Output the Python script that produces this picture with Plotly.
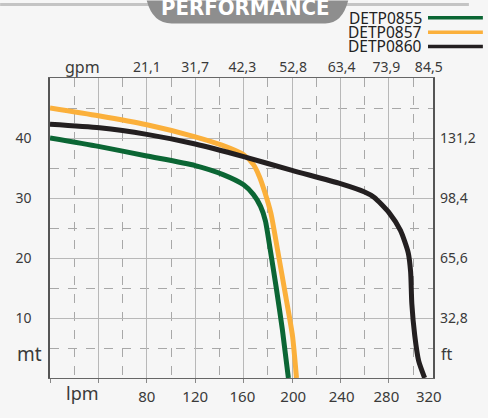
import plotly.graph_objects as go

# ---------------- data ----------------
lpm_0855 = [0, 40, 80, 120, 143, 160, 168, 174, 178, 182, 187, 192, 197]
head_0855 = [40.0, 38.6, 37.0, 35.4, 33.9, 32.2, 30.6, 28.6, 26.2, 21.4, 15.0, 8.1, 0.0]

lpm_0857 = [0, 40, 80, 120, 142, 160, 168, 173, 177, 182.5, 188, 195, 200.4, 203.7]
head_0857 = [45.0, 43.7, 42.2, 40.2, 38.8, 37.2, 35.6, 33.6, 31.3, 27.5, 21.4, 13.4, 7.0, 0.0]

lpm_0860 = [0, 41, 80, 120, 160, 200, 240, 260, 268, 280, 289.6, 296, 298, 299, 301.4, 304.7, 309.6]
head_0860 = [42.3, 41.7, 40.6, 39.0, 36.9, 34.6, 32.4, 31.0, 30.1, 27.6, 24.6, 20.9, 17.7, 12.4, 7.1, 2.8, 0.0]

series_names = ["DETP0855", "DETP0857", "DETP0860"]
series_colors = ["#0b6634", "#fbb03b", "#231f20"]

x_label_pos = [80, 120, 159, 201, 241, 278, 313]
lpm_labels = ["80", "120", "160", "200", "240", "280", "320"]
gpm_labels = ["21,1", "31,7", "42,3", "52,8", "63,4", "73,9", "84,5"]

y_label_pos = [10, 20, 30, 40]
mt_labels = ["10", "20", "30", "40"]
ft_labels = ["32,8", "65,6", "98,4", "131,2"]

X_MAX = 316.5
Y_MAX = 50

# ---------------- geometry helpers ----------------
W, H = 488, 418
L, R, T, B = 50, 54, 78, 26
PW, PH = W - L - R, H - T - B


def px(x):
    return (x - L) / PW


def py(y):
    return (H - B - y) / PH


FONT = "Noto Sans"
TXT = "#3a3a3a"

fig = go.Figure()

for lpm, head, name, col in [
    (lpm_0857, head_0857, series_names[1], series_colors[1]),
    (lpm_0855, head_0855, series_names[0], series_colors[0]),
    (lpm_0860, head_0860, series_names[2], series_colors[2]),
]:
    fig.add_trace(go.Scatter(x=lpm, y=head, mode="lines", name=name,
                             line=dict(color=col, width=5, shape="spline", smoothing=0.6),
                             showlegend=False, hoverinfo="skip"))

# empty traces so overlay axes get drawn
fig.add_trace(go.Scatter(x=[], y=[], xaxis="x2", yaxis="y", showlegend=False))
fig.add_trace(go.Scatter(x=[], y=[], xaxis="x3", yaxis="y", showlegend=False))
fig.add_trace(go.Scatter(x=[], y=[], xaxis="x", yaxis="y2", showlegend=False))

grid_solid = "#b8b8b8"
grid_dash = "#a8a8a8"

fig.update_layout(
    width=W, height=H,
    margin=dict(l=L, r=R, t=T, b=B, pad=0),
    paper_bgcolor="#f6f6f6", plot_bgcolor="#f6f6f6",
    font=dict(family=FONT, color=TXT, size=14),
    xaxis=dict(range=[0, X_MAX], tickmode="linear", tick0=0, dtick=40,
               showgrid=True, gridcolor=grid_solid, gridwidth=1,
               minor=dict(tickmode="array", tickvals=[20, 60, 100, 140, 180, 220, 260, 300],
                          showgrid=True, gridcolor=grid_dash, griddash="dash", gridwidth=1),
               showticklabels=False, ticks="outside", ticklen=4, tickcolor="#888",
               showline=True, linecolor="#666", linewidth=1, mirror=True,
               zeroline=False, layer="below traces"),
    xaxis2=dict(range=[0, X_MAX], overlaying="x", side="top", anchor="y",
                tickmode="array", tickvals=x_label_pos, ticktext=gpm_labels,
                showgrid=False, ticks="", showline=False, zeroline=False,
                ticklabelstandoff=2, tickfont=dict(size=14, color=TXT)),
    xaxis3=dict(range=[0, X_MAX], overlaying="x", side="bottom", anchor="y",
                tickmode="array", tickvals=x_label_pos, ticktext=lpm_labels,
                showgrid=False, ticks="", showline=False, zeroline=False,
                ticklabelstandoff=8, tickfont=dict(size=15, color=TXT)),
    yaxis=dict(range=[0, Y_MAX], tickmode="array", tickvals=y_label_pos, ticktext=mt_labels,
               showgrid=True, gridcolor=grid_solid, gridwidth=1,
               minor=dict(tickmode="array", tickvals=[5, 15, 25, 35, 45],
                          showgrid=True, gridcolor=grid_dash, griddash="dash", gridwidth=1),
               ticks="", showline=True, linecolor="#555", linewidth=1.5, mirror=True,
               zeroline=False, ticklabelstandoff=14, tickfont=dict(size=14, color=TXT)),
    yaxis2=dict(range=[0, Y_MAX], overlaying="y", side="right", anchor="x",
                tickmode="array", tickvals=y_label_pos, ticktext=ft_labels,
                showgrid=False, ticks="", showline=False, zeroline=False,
                ticklabelstandoff=6, tickfont=dict(size=14, color=TXT)),
)

# unit labels
fig.add_annotation(x=px(83), y=py(67), xref="paper", yref="paper", text="gpm",
                   showarrow=False, font=dict(size=16, color=TXT), xanchor="center", yanchor="middle")
fig.add_annotation(x=px(83), y=py(408), xref="paper", yref="paper", text="lpm",
                   showarrow=False, font=dict(size=18, color=TXT), xanchor="center", yanchor="middle")
fig.add_annotation(x=px(29), y=py(367), xref="paper", yref="paper", text="mt",
                   showarrow=False, font=dict(size=19, color=TXT), xanchor="center", yanchor="middle")
fig.add_annotation(x=px(440), y=py(367), xref="paper", yref="paper", text="ft",
                   showarrow=False, font=dict(size=16, color=TXT), xanchor="left", yanchor="middle")

# header bar and tab
fig.add_shape(type="line", xref="paper", yref="paper", x0=px(0), x1=px(470), y0=py(1), y1=py(1),
              line=dict(color="#c4c4c4", width=3))
tab = (f"M {px(147)},{py(-3)} Q {px(153)},{py(21)} {px(172)},{py(21)} "
       f"L {px(326)},{py(21)} Q {px(343)},{py(21)} {px(349)},{py(-3)} Z")
fig.add_shape(type="path", xref="paper", yref="paper", path=tab,
              fillcolor="#8e8e8e", line=dict(width=0))
fig.add_annotation(x=px(246), y=py(19), xref="paper", yref="paper", text="<b>PERFORMANCE</b>",
                   showarrow=False, xanchor="center", yanchor="bottom",
                   font=dict(family="Liberation Sans Narrow, DejaVu Sans Condensed, Roboto", size=22,
                             color="#ffffff"))

# legend (text left, line right)
for i, (name, col) in enumerate(zip(series_names, series_colors)):
    yc = 15 + i * 15
    fig.add_annotation(x=px(424), y=py(yc), xref="paper", yref="paper", text=name,
                       showarrow=False, xanchor="right", yanchor="middle", borderpad=0,
                       font=dict(size=15.5, color="#222222"))
    fig.add_shape(type="line", xref="paper", yref="paper", x0=px(429), x1=px(484),
                  y0=py(yc), y1=py(yc), line=dict(color=col, width=3.5))

fig.write_html("out.html", config={"displayModeBar": False},
               post_script="document.body.style.margin='0';document.body.style.padding='0';")
